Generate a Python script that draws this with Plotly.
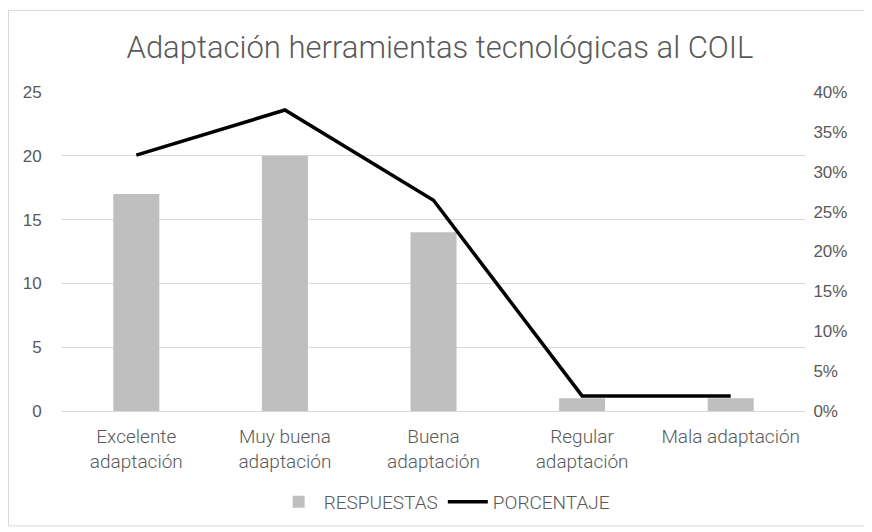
import plotly.graph_objects as go

categories = ["Excelente adaptación", "Muy buena adaptación", "Buena adaptación",
              "Regular adaptación", "Mala adaptación"]
tick_labels = ["Excelente<br>adaptación", "Muy buena<br>adaptación", "Buena<br>adaptación",
               "Regular<br>adaptación", "Mala adaptación"]
respuestas = [17, 20, 14, 1, 1]
porcentaje = [0.3208, 0.3774, 0.2642, 0.0189, 0.0189]

FONT = "Roboto, Liberation Sans, sans-serif"
ARIAL = "Liberation Sans, Arial, sans-serif"
GREY = "#595959"

fig = go.Figure()
fig.add_trace(go.Bar(x=categories, y=respuestas, name="RESPUESTAS",
                     marker=dict(color="#BFBFBF", line=dict(width=0)), width=0.31))
fig.add_trace(go.Scatter(x=categories, y=porcentaje, name="PORCENTAJE", yaxis="y2",
                         mode="lines", line=dict(color="black", width=3.5)))

# page body has an 8px margin: figure is offset by (8, 8) on the page
fig.update_layout(
    width=864, height=524,
    margin=dict(l=54, r=67, t=84, b=120),
    paper_bgcolor="white", plot_bgcolor="white",
    title=dict(text="Adaptación herramientas tecnológicas al COIL", x=0.5, xanchor="center",
               y=0.926, yanchor="middle",
               font=dict(family=FONT, size=31, color=GREY, weight=300)),
    xaxis=dict(tickmode="array", tickvals=categories, ticktext=tick_labels,
               tickfont=dict(family=FONT, size=19, color=GREY, weight=300), showline=True,
               linecolor="#D9D9D9", linewidth=1, ticks="outside", ticklen=8,
               tickcolor="white", showgrid=False),
    yaxis=dict(range=[0, 25], dtick=5, showgrid=True, gridcolor="#D9D9D9", gridwidth=1,
               zeroline=False, tickfont=dict(family=ARIAL, size=17, color=GREY),
               ticks="outside", ticklen=16, tickcolor="white"),
    yaxis2=dict(overlaying="y", side="right", range=[0, 0.4], dtick=0.05, tickformat=".0%",
                showgrid=False, zeroline=False,
                tickfont=dict(family=ARIAL, size=17, color=GREY),
                ticks="outside", ticklen=4, tickcolor="white"),
    legend=dict(orientation="h", x=0.515, xanchor="center", y=-0.281, yanchor="middle",
                font=dict(family=FONT, size=19, color=GREY, weight=300), traceorder="normal",
                itemwidth=40),
    bargap=0.69,
    shapes=[dict(type="rect", xref="paper", yref="paper", x0=-0.072, x1=1.0834,
                 y0=-0.36, y1=1.256, line=dict(color="#D9D9D9", width=1))],
)

fig.write_html("out.html")
